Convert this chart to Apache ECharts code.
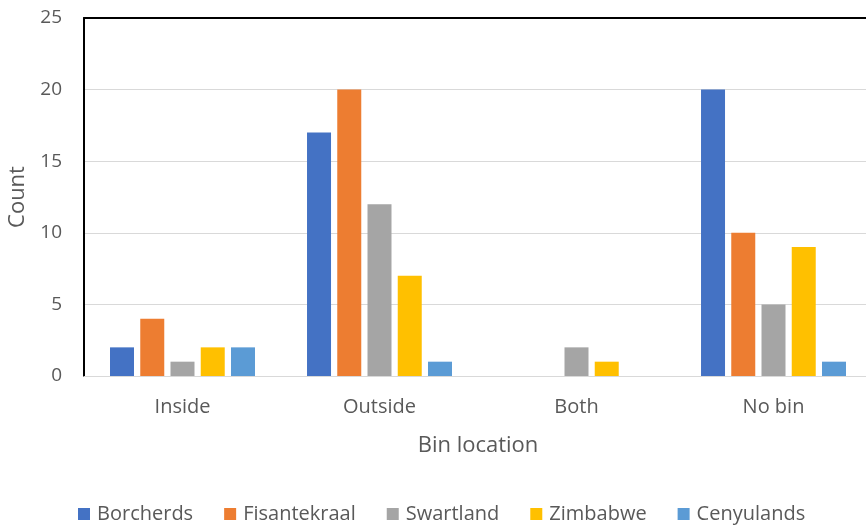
<!DOCTYPE html>
<html><head><meta charset="utf-8">
<script src="https://cdn.jsdelivr.net/npm/echarts@6/dist/echarts.min.js"></script>
<style>html,body{margin:0;padding:0;background:#fff;overflow:hidden}#c{width:880px;height:525px}</style>
</head><body><div id="c"></div>
<script>
const categories = ['Inside', 'Outside', 'Both', 'No bin'];
const seriesNames = ['Borcherds', 'Fisantekraal', 'Swartland', 'Zimbabwe', 'Cenyulands'];
const borcherds = [2, 17, 0, 20];
const fisantekraal = [4, 20, 0, 10];
const swartland = [1, 12, 2, 5];
const zimbabwe = [2, 7, 1, 9];
const cenyulands = [2, 1, 0, 1];
const colors = ['#4472C4', '#ED7D31', '#A5A5A5', '#FFC000', '#5B9BD5'];
const values = [borcherds, fisantekraal, swartland, zimbabwe, cenyulands];
const FONT = 'Open Sans';
const TXT = '#595959';
const chart = echarts.init(document.getElementById('c'));
chart.setOption({
  animation: false,
  textStyle: { fontFamily: FONT },
  grid: { left: 84, top: 18, width: 788, height: 358, outerBoundsMode: 'none', containLabel: false },
  legend: {
    data: seriesNames, left: 78, top: 504, padding: 0, itemWidth: 12, itemHeight: 12, itemGap: 31,
    icon: 'rect', textStyle: { color: TXT, fontSize: 20, fontFamily: FONT, padding: [0, 0, 0, 2] }
  },
  xAxis: [{
    type: 'category', data: categories, position: 'bottom',
    axisLine: { lineStyle: { color: '#d9d9d9', width: 1 } },
    axisTick: { show: false },
    axisLabel: { color: TXT, fontSize: 20, margin: 21 },
    name: 'Bin location', nameLocation: 'middle', nameGap: 59,
    nameTextStyle: { color: TXT, fontSize: 22 }
  }, {
    type: 'category', data: categories, position: 'top',
    axisLine: { lineStyle: { color: '#000', width: 2 } },
    axisTick: { show: false }, axisLabel: { show: false }
  }],
  yAxis: {
    type: 'value', min: 0, max: 25, interval: 5,
    axisLine: { show: true, lineStyle: { color: '#000', width: 2 } },
    axisTick: { show: false },
    splitLine: { lineStyle: { color: '#d9d9d9', width: 1 } },
    axisLabel: { color: TXT, fontSize: 19, margin: 22 },
    name: 'Count', nameLocation: 'middle', nameGap: 55, nameRotate: 90,
    nameTextStyle: { color: TXT, fontSize: 22 }
  },
  series: seriesNames.map((n, i) => ({
    name: n, type: 'bar', data: values[i], barWidth: 24, barGap: '26%',
    itemStyle: { color: colors[i] }
  }))
});
</script></body></html>
